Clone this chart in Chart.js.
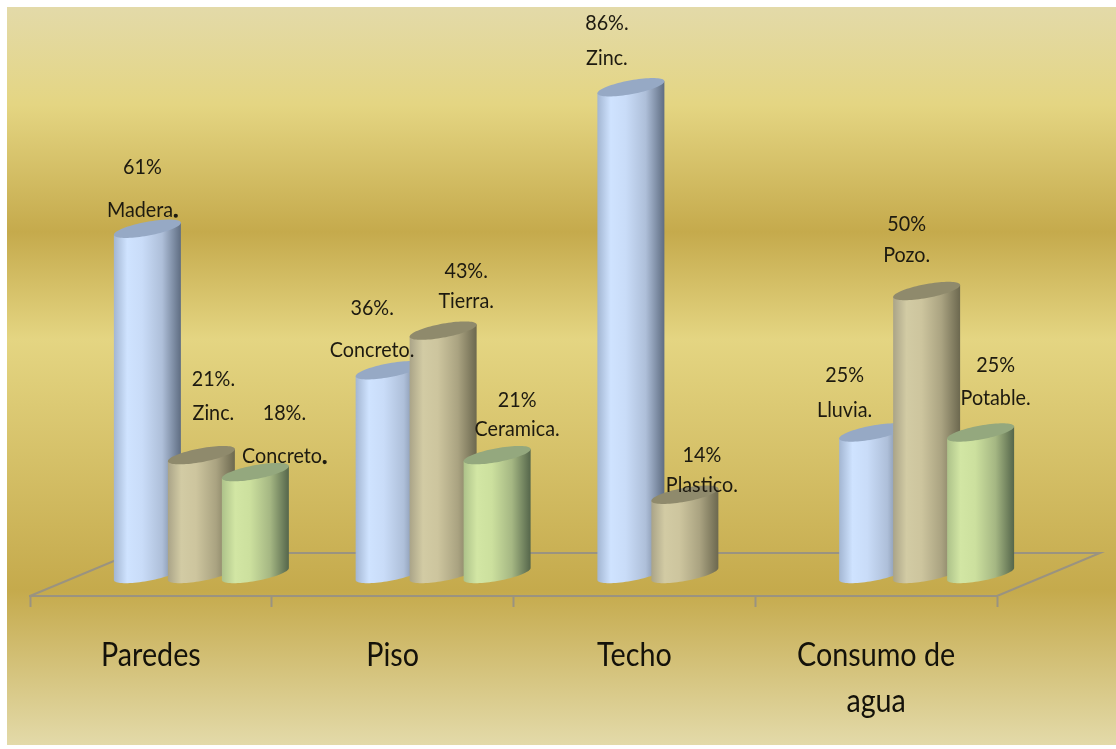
<!DOCTYPE html>
<html>
<head>
<meta charset="utf-8">
<title>Paredes, Piso, Techo, Consumo de agua</title>
<script src="https://cdn.jsdelivr.net/npm/chart.js@4"></script>
<style>
    html, body { margin: 0; padding: 0; background: #fff; overflow: hidden; }
    #wrap { width: 1116px; height: 749px; }
</style>
</head>
<body>
<div id="wrap"><canvas id="myChart"></canvas></div>
<script>
// datos
const categories = ['Paredes', 'Piso', 'Techo', ['Consumo de', 'agua']];
const serieAzul = [61, 36, 86, 25];
const serieTostada = [21, 43, 14, 50];
const serieVerde = [18, 21, null, 25];

// texto de las etiquetas
const percentAzul = ['61%', '36%.', '86%.', '25%'];
const percentTostada = ['21%.', '43%.', '14%', '50%'];
const percentVerde = ['18%.', '21%', null, '25%'];
const nameAzul = ['Madera.', 'Concreto.', 'Zinc.', 'Lluvia.'];
const nameTostada = ['Zinc.', 'Tierra.', 'Plastico.', 'Pozo.'];
const nameVerde = ['Concreto.', 'Ceramica.', null, 'Potable.'];

// desplazamiento de cada etiqueta respecto al tope del cilindro: [dx, dy porcentaje, dy nombre]
const labelOffsets = [
    [[-5, -62, -19], [-17, -62, -20], [-24, -64, -29], [-28, -57, -22]],
    [[12, -76, -42], [23, -59, -29], [17, -40, -10], [-20, -67, -36]],
    [[29, -59, -16], [20, -55, -26], null, [15, -67, -34]]
];
// estos puntos finales salen mas gruesos en el original
const heavyDots = ['0-0', '2-0'];

const DEPTH_X = 44, DEPTH_Y = -22, RADIUS_EXTRA = 13, TILT = 6, MINOR = 7;
const LINE_COLOR = '#9a9380';

const looks = [
    { top: '#96a9c5', stops: ['#a3b6d2', '#cfe3ff', '#c9dcf8', '#aebfd9', '#5f6d82'] },
    { top: '#8f8a6c', stops: ['#aaa488', '#d2cba4', '#cdc59e', '#aaa381', '#6c684f'] },
    { top: '#94a87e', stops: ['#adc28a', '#d2e6a4', '#cce09e', '#a5b783', '#55664b'] }
];

function ellipsePoint(cx, cy, a, t) {
    return [cx + a * Math.cos(t), cy - TILT * Math.cos(t) + MINOR * Math.sin(t)];
}

function drawCylinder(ctx, bar, look) {
    let a = (bar.width + RADIUS_EXTRA) / 2;
    let cx = bar.x + DEPTH_X + RADIUS_EXTRA / 2;
    let yTop = bar.y + DEPTH_Y;
    let yBase = bar.base + DEPTH_Y;

    // cuerpo
    let grad = ctx.createLinearGradient(cx - a, 0, cx + a, 0);
    [0, 0.2, 0.42, 0.72, 1].forEach((p, i) => grad.addColorStop(p, look.stops[i]));
    ctx.beginPath();
    ctx.moveTo(cx + a, yTop - TILT);
    for (let i = 0; i <= 40; i++) {
        let pt = ellipsePoint(cx, yBase, a, Math.PI * i / 40);
        ctx.lineTo(pt[0], pt[1]);
    }
    ctx.lineTo(cx - a, yTop + TILT);
    ctx.closePath();
    ctx.fillStyle = grad;
    ctx.fill();

    // tapa
    ctx.beginPath();
    for (let i = 0; i <= 80; i++) {
        let pt = ellipsePoint(cx, yTop, a, Math.PI * 2 * i / 80);
        if (i === 0) ctx.moveTo(pt[0], pt[1]);
        else ctx.lineTo(pt[0], pt[1]);
    }
    ctx.closePath();
    ctx.fillStyle = look.top;
    ctx.fill();
}

// el texto del original es alto y angosto
function narrowText(ctx, text, x, y, squeeze) {
    ctx.save();
    ctx.translate(x, y);
    ctx.scale(squeeze, 1);
    ctx.fillText(text, 0, 0);
    ctx.restore();
}

const goldBackground = {
    id: 'goldBackground',
    beforeDraw(chart) {
        let ctx = chart.ctx;
        let grad = ctx.createLinearGradient(0, 7, 0, 745);
        grad.addColorStop(0, '#e3daa9');
        grad.addColorStop(0.133, '#e4d582');
        grad.addColorStop(0.305, '#c5aa4c');
        grad.addColorStop(0.45, '#e4d582');
        grad.addColorStop(0.79, '#c5aa4c');
        grad.addColorStop(1, '#e3daa9');
        ctx.save();
        ctx.fillStyle = grad;
        ctx.fillRect(7, 7, 1109, 738);
        ctx.restore();
    }
};

// piso en perspectiva: bordes laterales y fondo
const floorLines = {
    id: 'floorLines',
    beforeDatasetsDraw(chart) {
        let ctx = chart.ctx;
        let area = chart.chartArea;
        let dx = 103, dy = -43;
        ctx.save();
        ctx.strokeStyle = LINE_COLOR;
        ctx.lineWidth = 2;
        ctx.beginPath();
        ctx.moveTo(area.left, area.bottom);
        ctx.lineTo(area.left + dx, area.bottom + dy);
        ctx.lineTo(area.right + dx, area.bottom + dy);
        ctx.lineTo(area.right, area.bottom);
        ctx.stroke();
        ctx.restore();
    }
};

const cylinders = {
    id: 'cylinders',
    afterDatasetsDraw(chart) {
        let ctx = chart.ctx;
        ctx.save();
        [0, 1, 2].forEach(d => {
            chart.getDatasetMeta(d).data.forEach((bar, i) => {
                if (chart.data.datasets[d].data[i] != null) drawCylinder(ctx, bar, looks[d]);
            });
        });

        // etiquetas
        let percents = [percentAzul, percentTostada, percentVerde];
        let names = [nameAzul, nameTostada, nameVerde];
        ctx.fillStyle = '#1d1a10';
        ctx.font = '21px Lato';
        ctx.textAlign = 'center';
        ctx.textBaseline = 'middle';
        [0, 1, 2].forEach(d => {
            chart.getDatasetMeta(d).data.forEach((bar, i) => {
                let off = labelOffsets[d][i];
                if (!off) return;
                let x = bar.x + DEPTH_X + RADIUS_EXTRA / 2 + off[0];
                let y = bar.y + DEPTH_Y;
                narrowText(ctx, percents[d][i], x, y + off[1], 0.94);
                narrowText(ctx, names[d][i], x, y + off[2], 0.94);
                if (heavyDots.includes(d + '-' + i)) {
                    let half = ctx.measureText(names[d][i]).width * 0.94 / 2;
                    ctx.beginPath();
                    ctx.arc(x + half - 2, y + off[2] + 6, 2.1, 0, Math.PI * 2);
                    ctx.fill();
                }
            });
        });

        // nombres de categoria sobre el eje x
        let xScale = chart.scales.x;
        ctx.fillStyle = '#14120a';
        ctx.font = '33px Lato';
        categories.forEach((cat, i) => {
            let x = xScale.getPixelForTick(i);
            [].concat(cat).forEach((line, k) => {
                narrowText(ctx, line, x, xScale.top + 59 + k * 46, 0.87);
            });
        });
        ctx.restore();
    }
};

let ctx = document.getElementById('myChart');
new Chart(ctx, {
    type: 'bar',
    data: {
        labels: categories,
        datasets: [
            { label: 'Serie 1', data: serieAzul, backgroundColor: 'rgba(0,0,0,0)' },
            { label: 'Serie 2', data: serieTostada, backgroundColor: 'rgba(0,0,0,0)' },
            { label: 'Serie 3', data: serieVerde, backgroundColor: 'rgba(0,0,0,0)' }
        ]
    },
    options: {
        responsive: true,
        maintainAspectRatio: false,
        animation: false,
        categoryPercentage: 0.67,
        barPercentage: 1,
        layout: { padding: { left: 30, right: 119, top: 30, bottom: 0 } },
        scales: {
            x: {
                afterFit: scale => { scale.height = 153; },
                grid: { drawOnChartArea: false, tickLength: 11, tickColor: LINE_COLOR, tickWidth: 2 },
                border: { color: LINE_COLOR, width: 2 },
                ticks: { display: false }
            },
            y: { display: false, min: 0, max: 100 }
        },
        plugins: {
            legend: { display: false },
            tooltip: { enabled: false }
        }
    },
    plugins: [goldBackground, floorLines, cylinders]
});
</script>
</body>
</html>
